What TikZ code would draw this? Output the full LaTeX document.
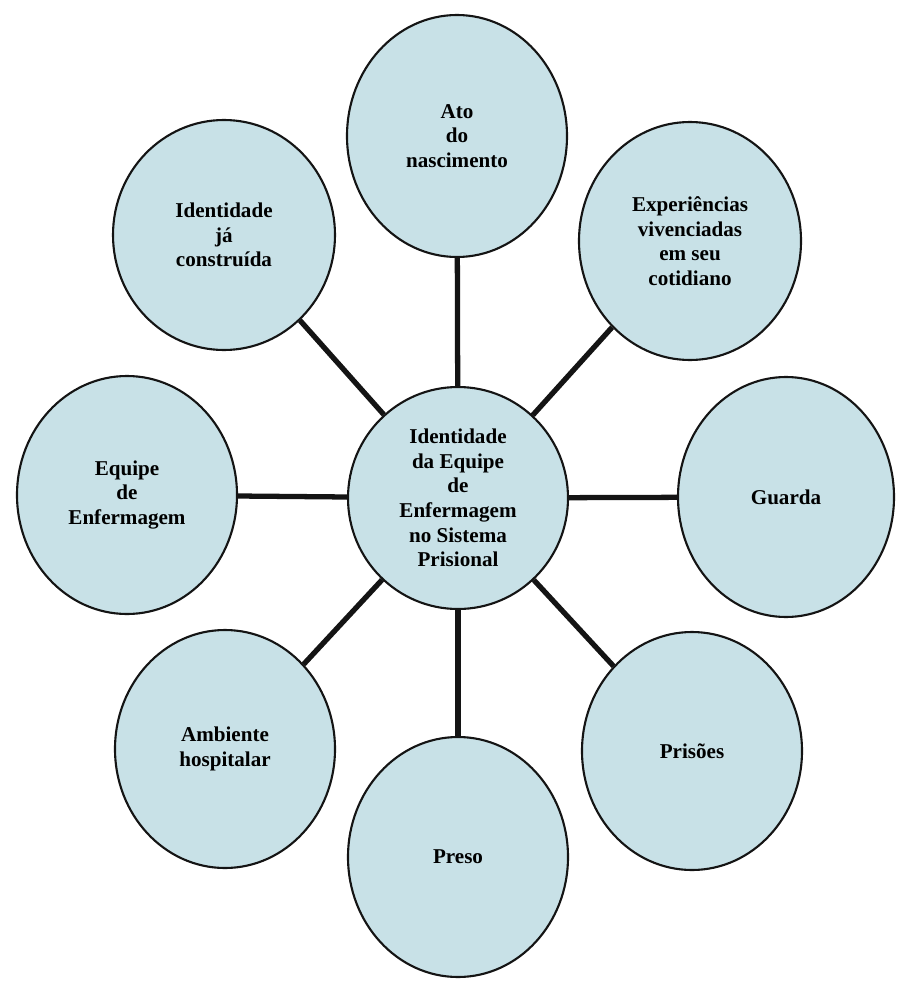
\documentclass[tikz,border=0pt]{standalone}
\usepackage{fontspec}
\setmainfont{Liberation Serif}
\usetikzlibrary{shapes.geometric}
\definecolor{Bubble}{HTML}{C8E1E7}
\definecolor{Ink}{HTML}{141414}

\begin{document}
\begin{tikzpicture}[
    bubble/.style={ellipse,draw=Ink,line width=1.2pt,fill=Bubble,inner sep=0pt,
      align=center,font=\bfseries\fontsize{12}{14}\selectfont},
    link/.style={line width=3pt,Ink}
  ]
    \useasboundingbox[fill=white] (0,0) rectangle (17.98,-19.66);
    \node[bubble,minimum width=4.4cm,minimum height=4.44cm] (hub) at (9.16,-9.96)
      {Identidade\\da Equipe\\de\\Enfermagem\\no Sistema\\Prisional};
    \foreach \x/\y/\w/\h/\nm/\txt in {
      9.14/-2.72/4.4/4.84/ato/{Ato\\do\\nascimento},
      4.48/-4.70/4.44/4.6/ident/{Identidade\\já\\construída},
      13.80/-4.82/4.44/4.76/exper/{Experiências\\vivenciadas\\em seu\\cotidiano},
      2.54/-9.90/4.4/4.76/equipe/{Equipe\\de\\Enfermagem},
      15.72/-9.94/4.32/4.8/guarda/{Guarda},
      4.50/-14.98/4.4/4.76/ambiente/{Ambiente\\hospitalar},
      9.16/-17.14/4.4/4.8/preso/{Preso},
      13.84/-15.02/4.4/4.76/prisoes/{Prisões}}{
      \node[bubble,minimum width=\w cm,minimum height=\h cm] (\nm) at (\x,\y) {\txt};
      \draw[link] (hub) -- (\nm);
    }
  \end{tikzpicture}
\end{document}
